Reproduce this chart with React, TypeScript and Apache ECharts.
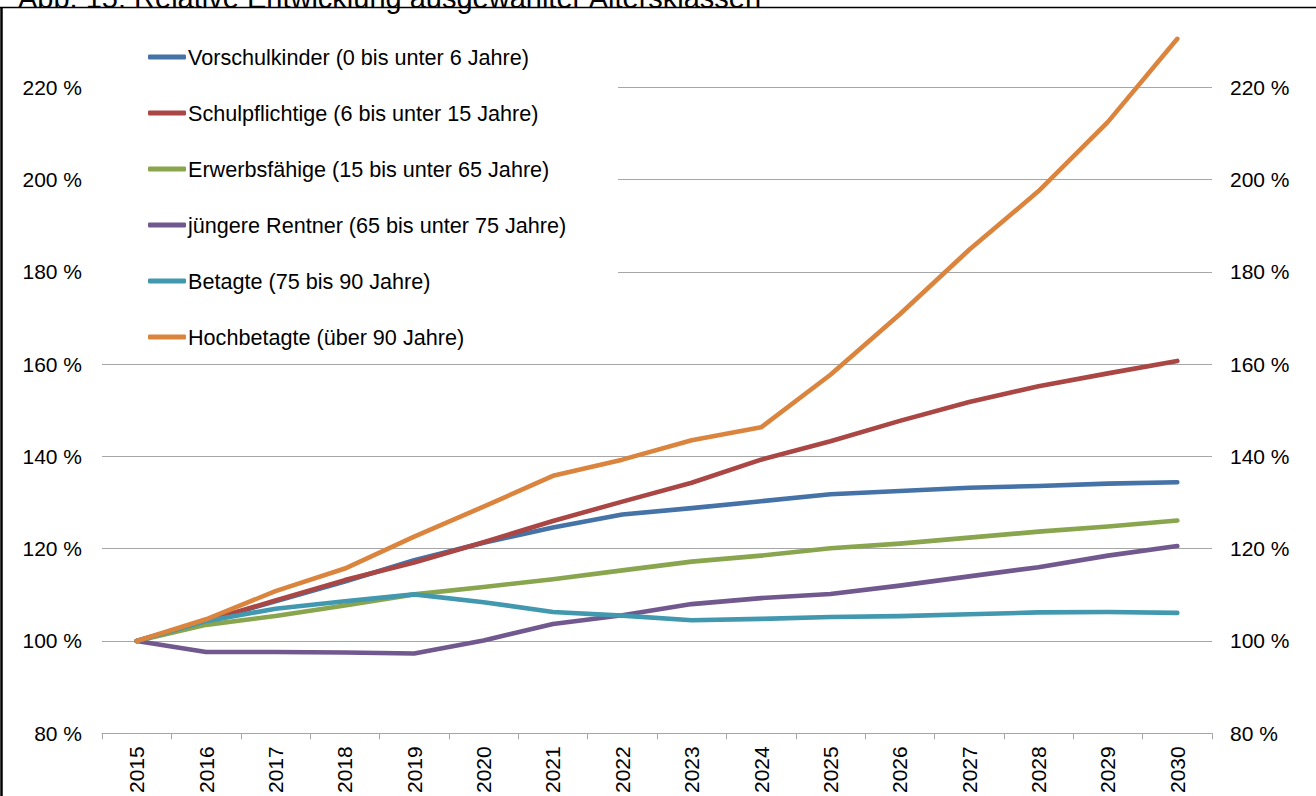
import React, { useEffect, useRef } from "react";
import * as echarts from "echarts";

const years = [
  "2015", "2016", "2017", "2018", "2019", "2020", "2021", "2022",
  "2023", "2024", "2025", "2026", "2027", "2028", "2029", "2030",
];

const vorschulkinder = [100, 104.3, 108.6, 112.9, 117.5, 121.3, 124.6, 127.4, 128.8, 130.3, 131.8, 132.5, 133.2, 133.6, 134.1, 134.4];
const schulpflichtige = [100, 104.3, 108.8, 113.2, 117.0, 121.4, 126.0, 130.2, 134.3, 139.3, 143.3, 147.7, 151.8, 155.2, 158.0, 160.7];
const erwerbsfaehige = [100, 103.5, 105.4, 107.7, 110.1, 111.7, 113.4, 115.3, 117.2, 118.5, 120.1, 121.1, 122.4, 123.7, 124.8, 126.1];
const juengereRentner = [100, 97.6, 97.6, 97.5, 97.3, 100.1, 103.7, 105.6, 108.0, 109.3, 110.2, 112.0, 114.0, 116.0, 118.5, 120.6];
const betagte = [100, 104.3, 107.0, 108.6, 110.1, 108.4, 106.3, 105.5, 104.5, 104.8, 105.2, 105.4, 105.8, 106.2, 106.3, 106.1];
const hochbetagte = [100, 104.7, 110.8, 115.7, 122.6, 129.1, 135.8, 139.3, 143.5, 146.3, 157.7, 170.8, 184.8, 197.5, 212.5, 230.5];

const seriesNames = [
  "Vorschulkinder (0 bis unter 6 Jahre)",
  "Schulpflichtige (6 bis unter 15 Jahre)",
  "Erwerbsfähige (15 bis unter 65 Jahre)",
  "jüngere Rentner (65 bis unter 75 Jahre)",
  "Betagte (75 bis 90 Jahre)",
  "Hochbetagte (über 90 Jahre)",
];
const seriesValues = [vorschulkinder, schulpflichtige, erwerbsfaehige, juengereRentner, betagte, hochbetagte];
const seriesColors = ["#4572A7", "#AA4643", "#89A54E", "#71588F", "#4198AF", "#DB843D"];

const titleText = "Abb. 15: Relative Entwicklung ausgewählter Altersklassen";

const FONT = "'Liberation Sans', Arial, sans-serif";

// The chart canvas starts 5px above the page so that the top (240 %) grid line sits just outside view.
const SHIFT = 5;

export default function App() {
  const ref = useRef<HTMLDivElement>(null);

  useEffect(() => {
    if (!ref.current) return;
    const chart = echarts.init(ref.current, undefined, { renderer: "svg" });

    const yAxisCommon = {
      type: "value",
      min: 80,
      max: 240,
      interval: 20,
      axisLine: { show: false },
      axisTick: { show: false },
      axisLabel: {
        formatter: "{value} %",
        color: "#000",
        fontSize: 21,
        fontFamily: FONT,
        showMaxLabel: false,
      },
    };

    chart.setOption({
      animation: false,
      backgroundColor: "#fff",
      grid: { left: 102, right: 104, top: 0, bottom: 55 },
      xAxis: {
        type: "category",
        data: years,
        boundaryGap: true,
        axisLine: { lineStyle: { color: "#a6a6a6", width: 1 } },
        axisTick: { show: true, interval: 0, length: 6, lineStyle: { color: "#a6a6a6" } },
        axisLabel: {
          rotate: 90,
          interval: 0,
          margin: 13,
          color: "#000",
          fontSize: 21,
          fontFamily: FONT,
        },
      },
      yAxis: [
        {
          ...yAxisCommon,
          position: "left",
          axisLabel: { ...yAxisCommon.axisLabel, margin: 20 },
          splitLine: { show: true, lineStyle: { color: "#a6a6a6", width: 1 } },
        },
        {
          ...yAxisCommon,
          position: "right",
          axisLabel: { ...yAxisCommon.axisLabel, margin: 18 },
          splitLine: { show: false },
        },
      ],
      legend: {
        orient: "vertical",
        left: 102,
        top: 9 + SHIFT,
        padding: [36, 52, 10, 46],
        backgroundColor: "#fff",
        itemGap: 32,
        itemWidth: 38,
        itemHeight: 5,
        icon: "roundRect",
        textStyle: {
          color: "#000",
          fontSize: 21.6,
          lineHeight: 24,
          fontFamily: FONT,
          padding: [0, 0, 0, -3],
        },
        data: seriesNames,
      },
      series: seriesNames.map((name, i) => ({
        name,
        type: "line",
        data: seriesValues[i],
        symbol: "none",
        showSymbol: false,
        color: seriesColors[i],
        lineStyle: { width: 4.6, color: seriesColors[i], cap: "round", join: "round" },
      })),
      graphic: [
        {
          type: "rect",
          shape: { x: 0, y: 0, width: 1316, height: 7.5 + SHIFT },
          style: { fill: "#fff" },
          z: 100,
        },
        {
          type: "text",
          x: 18,
          y: SHIFT - 17,
          style: {
            text: titleText,
            fontSize: 29,
            fontFamily: FONT,
            fill: "#000",
          },
          z: 101,
        },
        {
          type: "line",
          shape: { x1: 0, y1: 7.5 + SHIFT, x2: 1316, y2: 7.5 + SHIFT },
          style: { stroke: "#000", lineWidth: 1.5 },
          z: 101,
        },
        {
          type: "line",
          shape: { x1: 1.5, y1: 7 + SHIFT, x2: 1.5, y2: 801 },
          style: { stroke: "#000", lineWidth: 2.5 },
          z: 101,
        },
      ],
    });

    return () => chart.dispose();
  }, []);

  return (
    <div
      ref={ref}
      style={{ position: "fixed", left: 0, top: -SHIFT, width: 1316, height: 796 + SHIFT }}
    />
  );
}
